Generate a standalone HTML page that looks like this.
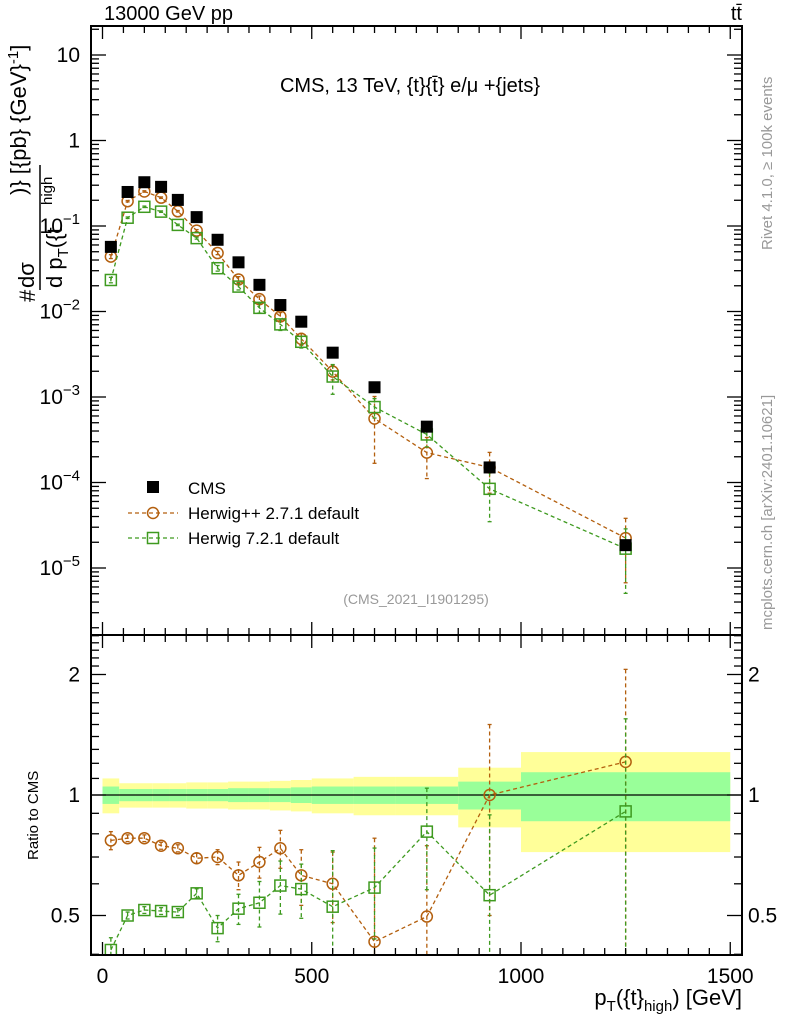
<!DOCTYPE html>
<html><head><meta charset="utf-8"><style>
html,body{margin:0;padding:0;background:#fff;width:786px;height:1024px;overflow:hidden;}
svg{display:block;font-family:"Liberation Sans",sans-serif;}
</style></head><body>
<svg id="c" width="786" height="1024" viewBox="0 0 786 1024" xmlns="http://www.w3.org/2000/svg"></svg>
<script>
const binEdges=[0,40,80,120,160,200,250,300,350,400,450,500,600,700,850,1000,1500];
const xCenters=[20,60,100,140,180,225,275,325,375,425,475,550,650,775,925,1250];
const cmsValues=[0.057,0.25,0.325,0.287,0.202,0.127,0.069,0.0376,0.0205,0.0119,0.0076,0.0033,0.0013,0.00045,0.00015,0.0000185];
const hppRatio=[0.77,0.78,0.78,0.747,0.736,0.695,0.70,0.63,0.68,0.736,0.63,0.60,0.43,0.497,1.0,1.21];
const hppErr=[0.04,0.015,0.015,0.015,0.015,0.02,0.03,0.05,0.06,0.08,0.1,0.12,0.35,0.25,0.5,0.85];
const h7Ratio=[0.41,0.50,0.516,0.513,0.51,0.568,0.465,0.52,0.538,0.594,0.582,0.526,0.587,0.81,0.562,0.91];
const h7Err=[0.03,0.01,0.01,0.01,0.01,0.015,0.035,0.045,0.07,0.09,0.09,0.2,0.15,0.23,0.33,0.64];
const bandInner=[0.05,0.035,0.035,0.035,0.035,0.035,0.035,0.04,0.04,0.04,0.045,0.05,0.05,0.05,0.08,0.14];
const bandOuter=[0.1,0.07,0.07,0.07,0.07,0.075,0.075,0.08,0.08,0.085,0.09,0.1,0.11,0.11,0.17,0.28];
const xTicks=[0,500,1000,1500];
const mainTicks=[1,0,-1,-2,-3,-4,-5];
const ratioTicks=[2,1,0.5];

const svg=document.getElementById('c');
const NS='http://www.w3.org/2000/svg';
const L=91,R=742,T=26,MB=635,RB=955;
const BROWN='#b35f0e',GREEN='#3e9a1f';
function X(v){return 102.5+(v)*0.4185;}
function Y(v){return 55+(1-Math.log10(v))*85.5;}
function YR(r){return 795-Math.log2(r)*120.5;}
function el(tag,attrs,parent){const e=document.createElementNS(NS,tag);for(const k in attrs)e.setAttribute(k,attrs[k]);(parent||svg).appendChild(e);return e;}
function txt(x,y,s,attrs,parent){const t=el('text',Object.assign({x:x,y:y},attrs||{}),parent);t.textContent=s;return t;}

const defs=el('defs',{});
const cp1=el('clipPath',{id:'cm'},defs);el('rect',{x:L,y:T,width:R-L,height:MB-T},cp1);
const cp2=el('clipPath',{id:'cr'},defs);el('rect',{x:L,y:MB,width:R-L,height:RB-MB},cp2);

const gBand=el('g',{'clip-path':'url(#cr)'});


for(let i=0;i<xCenters.length;i++){
  const x0=X(binEdges[i]),x1=X(binEdges[i+1]);
  const o=el('rect',{x:x0,y:YR(1+bandOuter[i]),width:x1-x0,height:YR(1-bandOuter[i])-YR(1+bandOuter[i]),fill:'#ffff99'},gBand);
  
  
  const n=el('rect',{x:x0,y:YR(1+bandInner[i]),width:x1-x0,height:YR(1-bandInner[i])-YR(1+bandInner[i]),fill:'#99ff99'},gBand);
  
  
}
el('line',{x1:L,x2:R,y1:YR(1),y2:YR(1),stroke:'#000','stroke-width':1.2});

function drawSeries(ratio,err,color,marker,name){
  const gm=el('g',{'clip-path':'url(#cm)'});
  
  
  const gr=el('g',{'clip-path':'url(#cr)'});
  
  
  let pm='',pr='';
  for(let i=0;i<xCenters.length;i++){
    const x=X(xCenters[i]);const v=cmsValues[i]*ratio[i];
    pm+=(i?'L':'M')+x+','+Y(v);pr+=(i?'L':'M')+x+','+YR(ratio[i]);
  }
  el('path',{d:pm,fill:'none',stroke:color,'stroke-width':1.3,'stroke-dasharray':'4,3'},gm);
  el('path',{d:pr,fill:'none',stroke:color,'stroke-width':1.3,'stroke-dasharray':'4,3'},gr);
  for(let i=0;i<xCenters.length;i++){
    const x=X(xCenters[i]);
    const v=cmsValues[i]*ratio[i],e=cmsValues[i]*err[i];
    const lo=Math.max(ratio[i]-err[i],0.05);
    [[gm,Y(v+e),Y(Math.max(v-e,v*0.3)),Y(v)],[gr,YR(ratio[i]+err[i]),YR(lo),YR(ratio[i])]].forEach(([g,y1,y2,yc])=>{
      el('line',{x1:x,x2:x,y1:y1,y2:y2,stroke:color,'stroke-width':1.3,'stroke-dasharray':'4,3'},g);
      el('line',{x1:x-2,x2:x+2,y1:y1,y2:y1,stroke:color,'stroke-width':1.3},g);
      el('line',{x1:x-2,x2:x+2,y1:y2,y2:y2,stroke:color,'stroke-width':1.3},g);
      let m;
      if(marker==='c') m=el('circle',{cx:x,cy:yc,r:5.5,fill:'none',stroke:color,'stroke-width':1.5},g);
      else m=el('rect',{x:x-5.5,y:yc-5.5,width:11,height:11,fill:'none',stroke:color,'stroke-width':1.5},g);
      
      
    });
  }
}
drawSeries(hppRatio,hppErr,BROWN,'c','herwigpp');
drawSeries(h7Ratio,h7Err,GREEN,'s','herwig7');

const gc=el('g',{'clip-path':'url(#cm)'});


for(let i=0;i<xCenters.length;i++){
  const r=el('rect',{x:X(xCenters[i])-6,y:Y(cmsValues[i])-6,width:12,height:12,fill:'#000'},gc);
  
  
}

el('rect',{x:L,y:T,width:R-L,height:RB-T,fill:'none',stroke:'#000','stroke-width':2});
el('line',{x1:L,x2:R,y1:MB,y2:MB,stroke:'#000','stroke-width':2});

for(let v=0;v<=1500;v+=50){
  const x=X(v);const big=v%500===0;const l=big?13:7;
  el('line',{x1:x,x2:x,y1:T,y2:T+l,stroke:'#000','stroke-width':1.3});
  el('line',{x1:x,x2:x,y1:MB,y2:MB-l,stroke:'#000','stroke-width':1.3});
  el('line',{x1:x,x2:x,y1:MB,y2:MB+l,stroke:'#000','stroke-width':1.3});
  el('line',{x1:x,x2:x,y1:RB,y2:RB-l,stroke:'#000','stroke-width':1.3});
}
xTicks.forEach(v=>{const t=txt(X(v),983,String(v),{'font-size':21,'text-anchor':'middle'});
  
  });

for(let d=-6;d<=1;d++){
  for(let k=1;k<10;k++){
    const v=k*Math.pow(10,d);const y=Y(v);
    if(y<T||y>MB)continue;
    const l=k===1?15:8;
    el('line',{x1:L,x2:L+l,y1:y,y2:y,stroke:'#000','stroke-width':1.3});
    el('line',{x1:R,x2:R-l,y1:y,y2:y,stroke:'#000','stroke-width':1.3});
  }
}
mainTicks.forEach(d=>{
  const y=Y(Math.pow(10,d))+7;let t;
  if(d===1) t=txt(80,y,'10',{'font-size':21,'text-anchor':'end'});
  else if(d===0) t=txt(80,y,'1',{'font-size':21,'text-anchor':'end'});
  else{ t=txt(80,y,'',{'font-size':21,'text-anchor':'end'});
    const a=document.createElementNS(NS,'tspan');a.textContent='10';t.appendChild(a);
    const b=document.createElementNS(NS,'tspan');b.setAttribute('dy','-9');b.setAttribute('font-size','15');b.textContent='\u2212'+(-d);t.appendChild(b);}
  
  
});
[0.4,0.5,0.6,0.7,0.8,0.9,1,1.1,1.2,1.3,1.4,1.5,1.6,1.7,1.8,1.9,2,2.1,2.2,2.3,2.4,2.5].forEach(v=>{
  const y=YR(v);if(y<MB||y>RB)return;const big=(v===0.5||v===1||v===2);const l=big?15:8;
  el('line',{x1:L,x2:L+l,y1:y,y2:y,stroke:'#000','stroke-width':1.3});
  el('line',{x1:R,x2:R-l,y1:y,y2:y,stroke:'#000','stroke-width':1.3});
});
ratioTicks.forEach(v=>{
  const t=txt(80,YR(v)+7,String(v),{'font-size':21,'text-anchor':'end'});
  
  
  const t2=txt(748,YR(v)+7,String(v),{'font-size':21});
  
  
});

svg.insertAdjacentHTML('beforeend',`
<text x="104" y="20" font-size="20">13000 GeV pp</text>
<text x="742" y="20" font-size="20" text-anchor="end">tt&#772;</text>
<text x="410" y="92" font-size="20" text-anchor="middle">CMS, 13 TeV, {t}{t&#772;} e/&#956; +{jets}</text>
<text x="416" y="604" font-size="14" fill="#999" text-anchor="middle">(CMS_2021_I1901295)</text>
<g>
 <rect x="147" y="481" width="12" height="12" fill="#000"/>
 <text x="188" y="494" font-size="17">CMS</text>
 <line x1="128" x2="178" y1="513" y2="513" stroke="#b35f0e" stroke-width="1.3" stroke-dasharray="4,3"/>
 <circle cx="153" cy="513" r="5.5" fill="none" stroke="#b35f0e" stroke-width="1.5"/>
 <text x="188" y="519" font-size="17">Herwig++ 2.7.1 default</text>
 <line x1="128" x2="178" y1="538" y2="538" stroke="#3e9a1f" stroke-width="1.3" stroke-dasharray="4,3"/>
 <rect x="147.5" y="532.5" width="11" height="11" fill="none" stroke="#3e9a1f" stroke-width="1.5"/>
 <text x="188" y="544" font-size="17">Herwig 7.2.1 default</text>
</g>
<text transform="translate(772,250) rotate(-90)" font-size="15" fill="#999">Rivet 4.1.0, &#8805; 100k events</text>
<text transform="translate(772,630) rotate(-90)" font-size="15" fill="#999">mcplots.cern.ch [arXiv:2401.10621]</text>
<g>
 <text transform="translate(35,302) rotate(-90)" font-size="22">#</text>
 <text transform="translate(34,288) rotate(-90)" font-size="22">dσ</text>
 <line x1="40" x2="40" y1="290" y2="165" stroke="#000" stroke-width="1.5"/>
 <text transform="translate(62,288) rotate(-90)" font-size="22">d p<tspan font-size="15" dy="6">T</tspan><tspan dy="-6">({t</tspan></text>
 <text transform="translate(52,205) rotate(-90)" font-size="15">high</text>
 <text transform="translate(26,195) rotate(-90)" font-size="22">)} [{pb} {GeV}<tspan font-size="15" dy="-8">-1</tspan><tspan dy="8">]</tspan></text>
</g>
<text transform="translate(38,860) rotate(-90)" font-size="15">Ratio to CMS</text>
<text x="742" y="1005" font-size="22" text-anchor="end">p<tspan font-size="15" dy="6">T</tspan><tspan dy="-6">({t}</tspan><tspan font-size="15" dy="6">high</tspan><tspan dy="-6">) [GeV]</tspan></text>
`);
</script>
</body></html>
